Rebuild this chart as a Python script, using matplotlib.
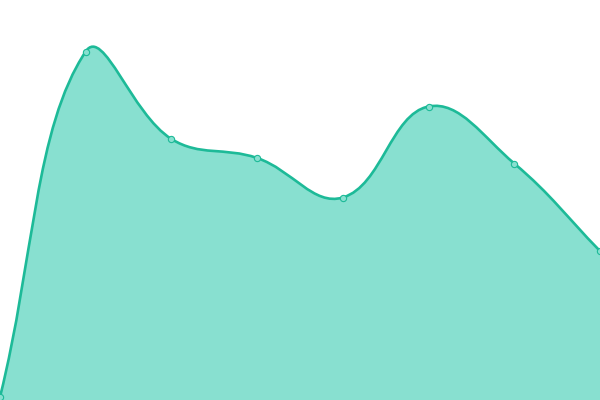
import numpy as np
import matplotlib
matplotlib.use("Agg")
import matplotlib.pyplot as plt
from matplotlib.path import Path
from matplotlib.patches import PathPatch

x_vals = [0, 1, 2, 3, 4, 5, 6, 7]
y_vals = [3, 348.5, 261, 242, 202.5, 293.5, 236.5, 149]

line_color = "#1dba98"
fill_color = "#88e0d0"

fig = plt.figure(figsize=(6, 4), dpi=100)
ax = fig.add_axes([0, 0, 1, 1])
ax.set_xlim(0, 7)
ax.set_ylim(0, 400)
ax.axis("off")

# chart.js style spline (tension 0.4), computed in pixel space
pts = ax.transData.transform(np.column_stack([x_vals, y_vals]))
tension = 0.4
n = len(pts)
cp_prev = pts.copy()
cp_next = pts.copy()
for i in range(n):
    prev = pts[max(i - 1, 0)]
    cur = pts[i]
    nxt = pts[min(i + 1, n - 1)]
    d01 = np.hypot(*(cur - prev))
    d12 = np.hypot(*(nxt - cur))
    tot = d01 + d12
    s01 = d01 / tot if tot else 0
    s12 = d12 / tot if tot else 0
    cp_prev[i] = cur - tension * s01 * (nxt - prev)
    cp_next[i] = cur + tension * s12 * (nxt - prev)

verts = [pts[0]]
codes = [Path.MOVETO]
for i in range(n - 1):
    verts += [cp_next[i], cp_prev[i + 1], pts[i + 1]]
    codes += [Path.CURVE4] * 3

inv = ax.transData.inverted()
curve = inv.transform(np.array(verts))

fill_verts = list(curve) + [(x_vals[-1], 0), (x_vals[0], 0), curve[0]]
fill_codes = codes + [Path.LINETO, Path.LINETO, Path.CLOSEPOLY]
ax.add_patch(PathPatch(Path(fill_verts, fill_codes), facecolor=fill_color,
                       edgecolor="none", zorder=1))
ax.add_patch(PathPatch(Path(curve, codes), facecolor="none",
                       edgecolor=line_color, lw=1.9, zorder=2))
ax.plot(x_vals, y_vals, "o", ms=4.5, mfc=fill_color, mec=line_color,
        mew=0.8, zorder=3, clip_on=False)

fig.savefig("out.png", dpi=100)
